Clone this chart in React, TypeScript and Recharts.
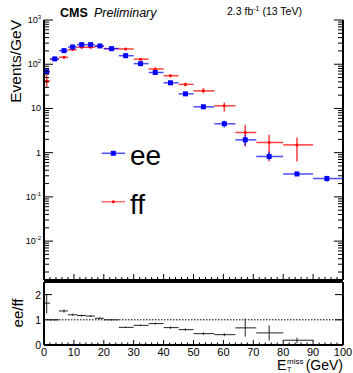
import React from 'react';
import { ScatterChart, Scatter, XAxis, YAxis, ErrorBar, ReferenceLine } from 'recharts';

// E_T^miss bins (GeV)
const binCenters = [0.9, 3.6, 6.7, 9.6, 12.6, 15.6, 18.7, 22.6, 27.3, 32.3, 37.2, 42.3, 47.3, 53.3, 60.3, 67.3, 75.3, 84.6, 94.6];
const binLow = [0, 2, 5, 8, 11, 14, 17, 20, 25, 30, 35, 40, 45, 50, 57, 64, 71, 80, 90];
const binHigh = [2, 5, 8, 11, 14, 17, 20, 25, 30, 35, 40, 45, 50, 57, 64, 71, 80, 90, 100];

// ee events/GeV
const eeValues = [68, 132, 203, 245, 277, 277, 259, 225, 156, 103, 65, 38, 21.4, 10.9, 4.5, 1.95, 0.82, 0.33, 0.26];
const eeErrLow = [6, 6, 8, 9, 10, 10, 10, 7, 6, 4.5, 3.5, 2.7, 2, 1.3, 0.8, 0.52, 0.13, 0.03, 0.04];
const eeErrHigh = [6, 6, 8, 9, 10, 10, 10, 7, 6, 4.5, 3.5, 2.7, 2, 1.3, 0.8, 0.59, 0.24, 0.04, 0.04];

// ff events/GeV (no entry in last bin)
const ffValues = [42, 130, 144, 214, 242, 242, 255, 225, 221, 130, 78, 55, 35, 25, 11.5, 2.86, 1.7, 1.5];
const ffErrLow = [11, 8, 9, 10, 11, 11, 11, 8, 8, 6, 5, 4, 3.5, 3, 3, 1.48, 1.07, 0.87];
const ffErrHigh = [15, 8, 9, 10, 11, 11, 11, 8, 8, 6, 5, 4, 3.5, 3.7, 2.1, 1.41, 0.84, 0.7];

// ee/ff ratio
const ratioValues = [1.66, 1.0, 1.35, 1.2, 1.17, 1.15, 1.06, 1.0, 0.7, 0.78, 0.85, 0.69, 0.61, 0.45, 0.41, 0.68, 0.48, 0.19];
const ratioErrLow = [0.4, 0.04, 0.06, 0.04, 0.04, 0.04, 0.04, 0.03, 0.03, 0.03, 0.04, 0.05, 0.05, 0.05, 0.06, 0.35, 0.3, 0.12];
const ratioErrHigh = [0.37, 0.04, 0.06, 0.04, 0.04, 0.04, 0.04, 0.03, 0.03, 0.03, 0.04, 0.05, 0.05, 0.05, 0.06, 0.37, 0.3, 0.1];

const yDecades = [0.001, 0.01, 0.1, 1, 10, 100, 1000];
const xMajor = [0, 10, 20, 30, 40, 50, 60, 70, 80, 90, 100];
const ratioTicks = [0, 1, 2];

const mainYTicks = yDecades
  .flatMap((d) => [1, 2, 3, 4, 5, 6, 7, 8, 9].map((m) => m * d))
  .filter((v) => v >= 0.00132 && v <= 1000.0001);
const xTicks = xMajor.flatMap((v) => (v < 100 ? [v, v + 2, v + 4, v + 6, v + 8] : [v]));

const makeSeries = (vals: number[], lo: number[], hi: number[]) =>
  vals.map((y, i) => ({
    x: binCenters[i],
    y,
    ex: [binCenters[i] - binLow[i], binHigh[i] - binCenters[i]],
    ey: [lo[i], hi[i]],
  }));

const eeData = makeSeries(eeValues, eeErrLow, eeErrHigh);
const ffData = makeSeries(ffValues, ffErrLow, ffErrHigh);
const ratioData = makeSeries(ratioValues, ratioErrLow, ratioErrHigh);

const FONT = '"Liberation Sans", Arial, Helvetica, sans-serif';
const W = 353;
const PLOT_LEFT = 44;
const PLOT_RIGHT = 343;
const SPAN = PLOT_RIGHT - PLOT_LEFT;

const BlueSquare = (p: any) => <rect x={p.cx - 2.5} y={p.cy - 2.5} width={5} height={5} fill="#0000ff" />;
const RedDot = (p: any) => <circle cx={p.cx} cy={p.cy} r={1.5} fill="#ff0000" />;
const NoMark = () => <g />;

function LogYTick(props: any) {
  const { x, y, payload } = props;
  const lg = Math.log10(payload.value);
  const exp = Math.round(lg);
  const major = Math.abs(lg - exp) < 1e-6;
  const len = major ? 9 : 5;
  let label: React.ReactNode = null;
  if (major) {
    if (exp === 0) label = '1';
    else if (exp === 1) label = '10';
    else
      label = (
        <>
          10<tspan dy={-4} fontSize={6}>{exp}</tspan>
        </>
      );
  }
  return (
    <g>
      <line x1={x} x2={x + len} y1={y} y2={y} stroke="#000" strokeWidth={1} />
      <line x1={x + SPAN} x2={x + SPAN - len} y1={y} y2={y} stroke="#000" strokeWidth={1} />
      {major && exp >= -2 && (
        <text x={x - 3} y={y + 3} textAnchor="end" fontSize={9} fontFamily={FONT} fill="#000">
          {label}
        </text>
      )}
    </g>
  );
}

function MainXTick(props: any) {
  const { x, y, payload } = props;
  const len = payload.value % 10 === 0 ? 6 : 3;
  return <line x1={x} x2={x} y1={y} y2={y - len} stroke="#000" strokeWidth={1} />;
}

function RatioYTick(props: any) {
  const { x, y, payload } = props;
  return (
    <g>
      <line x1={x} x2={x + 8} y1={y} y2={y} stroke="#000" />
      <line x1={x + SPAN} x2={x + SPAN - 8} y1={y} y2={y} stroke="#000" />
      <text x={x - 3} y={y + 4} textAnchor="end" fontSize={10.5} fontFamily={FONT} fill="#000">
        {payload.value}
      </text>
    </g>
  );
}

function RatioXTick(props: any) {
  const { x, y, payload } = props;
  const major = payload.value % 10 === 0;
  return (
    <g>
      <line x1={x} x2={x} y1={y} y2={y - (major ? 5 : 2.5)} stroke="#000" />
      {major && (
        <text x={x} y={y + 11} textAnchor="middle" fontSize={11} fontFamily={FONT} fill="#000">
          {payload.value}
        </text>
      )}
    </g>
  );
}

export default function App() {
  return (
    <div style={{ position: 'absolute', left: 0, top: 0, width: W, height: 373, background: '#fff' }}>
      <div style={{ position: 'absolute', left: 0, top: 0 }}>
        <ScatterChart width={W} height={282} margin={{ top: 20, right: 10, bottom: 0, left: 4 }}>
          <XAxis
            type="number"
            dataKey="x"
            domain={[0, 100]}
            ticks={xTicks}
            interval={0}
            height={2}
            tickSize={0}
            tickMargin={0}
            tickLine={false}
            tick={MainXTick}
            axisLine={{ stroke: '#000', strokeWidth: 2 }}
            allowDataOverflow
          />
          <YAxis
            type="number"
            dataKey="y"
            scale="log"
            domain={[0.00132, 1000]}
            ticks={mainYTicks}
            interval={0}
            width={40}
            tickSize={0}
            tickMargin={0}
            tickLine={false}
            tick={LogYTick}
            axisLine={{ stroke: '#000', strokeWidth: 2 }}
            allowDataOverflow
          />
          <ReferenceLine x={100} stroke="#000" strokeWidth={2} />
          <Scatter data={ffData} shape={RedDot} isAnimationActive={false}>
            <ErrorBar dataKey="ex" direction="x" width={0} stroke="#ff0000" strokeWidth={1.5} strokeOpacity={0.75} />
            <ErrorBar dataKey="ey" direction="y" width={0} stroke="#ff0000" strokeWidth={1.5} strokeOpacity={0.75} />
          </Scatter>
          <Scatter data={eeData} shape={BlueSquare} isAnimationActive={false}>
            <ErrorBar dataKey="ex" direction="x" width={0} stroke="#0000ff" strokeWidth={1.5} strokeOpacity={0.7} />
            <ErrorBar dataKey="ey" direction="y" width={0} stroke="#0000ff" strokeWidth={1.5} strokeOpacity={0.7} />
          </Scatter>
        </ScatterChart>
      </div>
      <div style={{ position: 'absolute', left: 0, top: 272 }}>
        <ScatterChart width={W} height={101} margin={{ top: 10, right: 10, bottom: 0, left: 4 }}>
          <XAxis
            type="number"
            dataKey="x"
            domain={[0, 100]}
            ticks={xTicks}
            interval={0}
            height={28}
            tickSize={0}
            tickMargin={0}
            tickLine={false}
            tick={RatioXTick}
            axisLine={{ stroke: '#000', strokeWidth: 2 }}
            allowDataOverflow
          />
          <YAxis
            type="number"
            dataKey="y"
            domain={[0, 2.5]}
            ticks={ratioTicks}
            interval={0}
            width={40}
            tickSize={0}
            tickMargin={0}
            tickLine={false}
            tick={RatioYTick}
            axisLine={{ stroke: '#000', strokeWidth: 2 }}
            allowDataOverflow
          />
          <ReferenceLine x={100} stroke="#000" strokeWidth={2} />
          <ReferenceLine y={2.5} stroke="#000" strokeWidth={2} />
          <ReferenceLine y={1} stroke="#000" strokeWidth={1} strokeDasharray="1.5 1.5" />
          <Scatter data={ratioData} shape={NoMark} isAnimationActive={false}>
            <ErrorBar dataKey="ex" direction="x" width={0} stroke="#222" strokeWidth={1} />
            <ErrorBar dataKey="ey" direction="y" width={0} stroke="#222" strokeWidth={1} />
          </Scatter>
        </ScatterChart>
      </div>
      <svg
        width={W}
        height={373}
        style={{ position: 'absolute', left: 0, top: 0, pointerEvents: 'none' }}
        fontFamily={FONT}
      >
        <text x={60} y={17} fontSize={12.5} fontWeight="bold">CMS</text>
        <text x={94} y={17} fontSize={12.5} fontStyle="italic">Preliminary</text>
        <text x={227} y={15} fontSize={10.5}>
          2.3 fb<tspan dy={-4} fontSize={7}>-1</tspan>
          <tspan dy={4}> (13 TeV)</tspan>
        </text>
        <text transform="translate(20.5,20) rotate(-90)" textAnchor="end" fontSize={15.5}>Events/GeV</text>
        <text transform="translate(23,313) rotate(-90)" textAnchor="middle" fontSize={15}>ee/ff</text>
        <text x={277} y={370} fontSize={14}>E</text>
        <text x={287} y={372} fontSize={7}>T</text>
        <text x={287} y={363.5} fontSize={8}>miss</text>
        <text x={343} y={370} textAnchor="end" fontSize={14}>(GeV)</text>
        {/* legend */}
        <line x1={101.7} x2={125} y1={153.3} y2={153.3} stroke="#0000ff" strokeWidth={1.5} strokeOpacity={0.7} />
        <rect x={110.8} y={150.8} width={5} height={5} fill="#0000ff" />
        <text x={130} y={165} fontSize={28}>ee</text>
        <line x1={101.7} x2={125} y1={201.7} y2={201.7} stroke="#ff0000" strokeWidth={1.5} strokeOpacity={0.6} />
        <circle cx={113.3} cy={201.7} r={1.5} fill="#ff0000" />
        <text x={130} y={214} fontSize={28}>ff</text>
      </svg>
    </div>
  );
}
